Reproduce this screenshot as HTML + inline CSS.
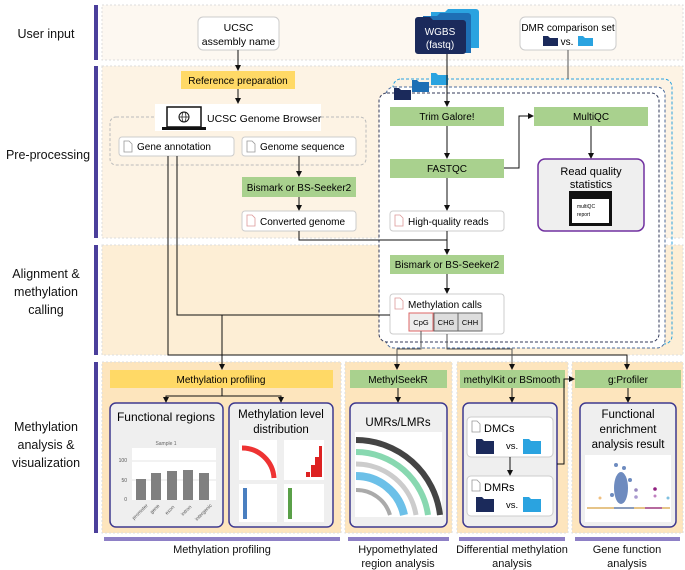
<!DOCTYPE html>
<html><head><meta charset="utf-8"><style>
html,body{margin:0;padding:0;background:#fff;}
svg{display:block;font-family:"Liberation Sans",sans-serif;}
</style></head><body>
<svg width="685" height="570" viewBox="0 0 685 570" xmlns="http://www.w3.org/2000/svg">
<defs>
<marker id="a" markerWidth="6" markerHeight="6" refX="5" refY="3" orient="auto" markerUnits="userSpaceOnUse"><path d="M0,0 L6,3 L0,6z" fill="#111"/></marker>
<g id="doc"><path d="M0,0 h5 l3,3 v8 h-8z" fill="#fff" stroke="#999" stroke-width="0.8"/></g>
<g id="docr"><path d="M0,0 h5 l3,3 v8 h-8z" fill="#fff" stroke="#d99" stroke-width="0.8"/></g>
</defs>

<g fill="#4b3f9b">
<rect x="94" y="5" width="4" height="55"/>
<rect x="94" y="66" width="4" height="172"/>
<rect x="94" y="245" width="4" height="110"/>
<rect x="94" y="362" width="4" height="171"/>
</g>
<g font-size="12.5" fill="#111" text-anchor="middle">
<text x="46" y="38">User input</text>
<text x="48" y="159">Pre-processing</text>
<text x="46" y="278">Alignment &amp;</text>
<text x="46" y="296">methylation</text>
<text x="46" y="314">calling</text>
<text x="46" y="431">Methylation</text>
<text x="46" y="449">analysis &amp;</text>
<text x="46" y="467">visualization</text>
</g>

<rect x="102" y="5" width="581" height="55" fill="#fdf8f1" stroke="#ddd" stroke-dasharray="2,2"/>
<rect x="102" y="66" width="581" height="172" fill="#fdf3e4" stroke="#ddd" stroke-dasharray="2,2"/>
<rect x="102" y="245" width="581" height="110" fill="#fdeed5" stroke="#ddd" stroke-dasharray="2,2"/>
<rect x="102" y="362" width="239" height="171" fill="#fde5bd" stroke="#ddd" stroke-dasharray="2,2"/>
<rect x="345" y="362" width="107" height="171" fill="#fde5bd" stroke="#ddd" stroke-dasharray="2,2"/>
<rect x="457" y="362" width="111" height="171" fill="#fde5bd" stroke="#ddd" stroke-dasharray="2,2"/>
<rect x="572" y="362" width="111" height="171" fill="#fde5bd" stroke="#ddd" stroke-dasharray="2,2"/>

<rect x="198" y="17" width="81" height="33" rx="5" fill="#fff" stroke="#ccc"/>
<text x="238.5" y="31" font-size="10.5" text-anchor="middle">UCSC</text>
<text x="238.5" y="45" font-size="10.5" text-anchor="middle">assembly name</text>
<path d="M431,12 h14 l3,-3 h28 a3,3 0 0 1 3,3 v36 h-48z" fill="#2aa3e0"/>
<path d="M423,16 h14 l3,-3 h28 a3,3 0 0 1 3,3 v37 h-48z" fill="#1e6fb5"/>
<path d="M415,20 a3,3 0 0 1 3,-3 h12 l3,3 h30 a3,3 0 0 1 3,3 v28 a3,3 0 0 1 -3,3 h-45 a3,3 0 0 1 -3,-3z" fill="#1b2a5b"/>
<text x="440" y="35" font-size="10" fill="#fff" text-anchor="middle">WGBS</text>
<text x="440" y="48" font-size="10" fill="#fff" text-anchor="middle">(fastq)</text>
<rect x="520" y="17" width="96" height="33" rx="5" fill="#fff" stroke="#ccc"/>
<text x="568" y="31" font-size="10" text-anchor="middle">DMR comparison set</text>
<path d="M543,36 h5 l2,2 h8 v8 h-15z" fill="#1b2a5b"/>
<text x="567" y="45" font-size="10" text-anchor="middle">vs.</text>
<path d="M578,36 h5 l2,2 h8 v8 h-15z" fill="#2aa3e0"/>

<rect x="181" y="71" width="114" height="18" fill="#ffd966"/>
<text x="238" y="84" font-size="10" text-anchor="middle">Reference preparation</text>
<line x1="238" y1="50" x2="238" y2="70" stroke="#111" marker-end="url(#a)"/>
<line x1="238" y1="89" x2="238" y2="103" stroke="#111" marker-end="url(#a)"/>
<rect x="110" y="117" width="256" height="48" rx="6" fill="none" stroke="#bbb" stroke-dasharray="3,2"/>
<rect x="155" y="104" width="166" height="27" fill="#fff"/>
<rect x="167" y="107" width="34" height="20" fill="#fff" stroke="#111" stroke-width="1.5"/>
<rect x="162" y="127" width="44" height="3" fill="#111"/>
<circle cx="184" cy="117" r="5" fill="none" stroke="#111"/>
<line x1="179" y1="117" x2="189" y2="117" stroke="#111" stroke-width="0.7"/>
<ellipse cx="184" cy="117" rx="2" ry="5" fill="none" stroke="#111" stroke-width="0.7"/>
<text x="207" y="122" font-size="10.5">UCSC Genome Browser</text>
<rect x="119" y="137" width="115" height="19" rx="3" fill="#fff" stroke="#ccc"/>
<use href="#doc" x="124" y="141"/>
<text x="137" y="150" font-size="10">Gene annotation</text>
<rect x="242" y="137" width="114" height="19" rx="3" fill="#fff" stroke="#ccc"/>
<use href="#doc" x="247" y="141"/>
<text x="260" y="150" font-size="10">Genome sequence</text>
<line x1="299" y1="156" x2="299" y2="176" stroke="#111" marker-end="url(#a)"/>
<rect x="242" y="177" width="114" height="20" fill="#a9d18e"/>
<text x="299" y="191" font-size="10" text-anchor="middle">Bismark or BS-Seeker2</text>
<line x1="299" y1="197" x2="299" y2="210" stroke="#111" marker-end="url(#a)"/>
<rect x="242" y="211" width="114" height="20" rx="3" fill="#fff" stroke="#ccc"/>
<use href="#docr" x="247" y="215"/>
<text x="260" y="225" font-size="10">Converted genome</text>

<rect x="393" y="79" width="279" height="265" rx="8" fill="none" stroke="#2aa3e0" stroke-dasharray="3,2"/>
<rect x="386" y="87" width="279" height="261" rx="8" fill="#fff" stroke="#4a6a9a" stroke-dasharray="3,2"/>
<rect x="379" y="93" width="280" height="249" rx="8" fill="#fff" stroke="#333a5a" stroke-dasharray="3,2"/>
<path d="M431,73 h5 l2,2 h10 v10 h-17z" fill="#2aa3e0"/>
<path d="M412,80 h5 l2,2 h10 v10 h-17z" fill="#1e6fb5"/>
<path d="M394,88 h5 l2,2 h10 v10 h-17z" fill="#1b2a5b"/>
<line x1="568" y1="50" x2="568" y2="79" stroke="#555"/>

<line x1="447" y1="54" x2="447" y2="106" stroke="#111" marker-end="url(#a)"/>
<rect x="390" y="107" width="114" height="19" fill="#a9d18e"/>
<text x="447" y="120" font-size="10" text-anchor="middle">Trim Galore!</text>
<rect x="534" y="107" width="114" height="19" fill="#a9d18e"/>
<text x="591" y="120" font-size="10" text-anchor="middle">MultiQC</text>
<line x1="447" y1="126" x2="447" y2="158" stroke="#111" marker-end="url(#a)"/>
<rect x="390" y="159" width="114" height="19" fill="#a9d18e"/>
<text x="447" y="172" font-size="10" text-anchor="middle">FASTQC</text>
<polyline points="504,168 519,168 519,116 533,116" fill="none" stroke="#111" marker-end="url(#a)"/>
<line x1="591" y1="126" x2="591" y2="158" stroke="#111" marker-end="url(#a)"/>
<rect x="538" y="159" width="106" height="72" rx="7" fill="#efefef" stroke="#7030a0" stroke-width="1.5"/>
<text x="591" y="175" font-size="11" text-anchor="middle">Read quality</text>
<text x="591" y="188" font-size="11" text-anchor="middle">statistics</text>
<rect x="569" y="191" width="43" height="35" fill="#111"/>
<rect x="572" y="199" width="37" height="24" fill="#fff"/>
<text x="577" y="208" font-size="5">multiQC</text>
<text x="577" y="216" font-size="5">report</text>
<line x1="447" y1="178" x2="447" y2="210" stroke="#111" marker-end="url(#a)"/>
<rect x="390" y="211" width="114" height="20" rx="3" fill="#fff" stroke="#ccc"/>
<use href="#docr" x="395" y="215"/>
<text x="408" y="225" font-size="10">High-quality reads</text>
<polyline points="299,231 299,240 447,240" fill="none" stroke="#111"/>
<line x1="447" y1="231" x2="447" y2="254" stroke="#111" marker-end="url(#a)"/>
<rect x="390" y="255" width="114" height="19" fill="#a9d18e"/>
<text x="447" y="268" font-size="10" text-anchor="middle">Bismark or BS-Seeker2</text>
<line x1="447" y1="274" x2="447" y2="293" stroke="#111" marker-end="url(#a)"/>
<rect x="390" y="294" width="114" height="40" rx="3" fill="#fff" stroke="#ccc"/>
<use href="#docr" x="395" y="298"/>
<text x="408" y="308" font-size="10">Methylation calls</text>
<rect x="409" y="313" width="24" height="18" fill="#eee" stroke="#d66"/>
<rect x="434" y="313" width="24" height="18" fill="#ddd" stroke="#666"/>
<rect x="458" y="313" width="24" height="18" fill="#ddd" stroke="#666"/>
<text x="421" y="325" font-size="7.5" text-anchor="middle">CpG</text>
<text x="446" y="325" font-size="7.5" text-anchor="middle">CHG</text>
<text x="470" y="325" font-size="7.5" text-anchor="middle">CHH</text>

<polyline points="177,156 177,315 390,315" fill="none" stroke="#111"/>
<polyline points="168,156 168,355 627,355 627,369" fill="none" stroke="#111" marker-end="url(#a)"/>
<line x1="222" y1="315" x2="222" y2="369" stroke="#111" marker-end="url(#a)"/>
<polyline points="421,331 421,349 397,349 397,369" fill="none" stroke="#555" marker-end="url(#a)"/>
<polyline points="447,334 447,349 512,349 512,369" fill="none" stroke="#555" marker-end="url(#a)"/>

<rect x="110" y="370" width="223" height="18" fill="#ffd966"/>
<text x="221" y="383" font-size="10" text-anchor="middle">Methylation profiling</text>
<polyline points="222,388 222,396 166,396 166,402" fill="none" stroke="#111" marker-end="url(#a)"/>
<polyline points="222,396 281,396 281,402" fill="none" stroke="#111" marker-end="url(#a)"/>
<rect x="110" y="403" width="113" height="124" rx="6" fill="#efefef" stroke="#3f3a8f" stroke-width="1.5"/>
<text x="166" y="421" font-size="12" text-anchor="middle">Functional regions</text>
<text x="166" y="445" font-size="5" fill="#666" text-anchor="middle">Sample 1</text>
<rect x="132" y="448" width="84" height="52" fill="#fff"/>
<g font-size="5" fill="#555" text-anchor="end"><text x="127" y="462">100</text><text x="127" y="482">50</text><text x="127" y="501">0</text></g>
<line x1="132" y1="461" x2="216" y2="461" stroke="#ccc" stroke-width="0.5"/>
<line x1="132" y1="480" x2="216" y2="480" stroke="#ccc" stroke-width="0.5"/>
<g fill="#808080"><rect x="136" y="479" width="10" height="21"/><rect x="151" y="473" width="10" height="27"/><rect x="167" y="471" width="10" height="29"/><rect x="183" y="470" width="10" height="30"/><rect x="199" y="473" width="10" height="27"/></g>
<g font-size="5" fill="#555"><text transform="translate(134,520) rotate(-45)">promoter</text><text transform="translate(152,514) rotate(-45)">gene</text><text transform="translate(167,515) rotate(-45)">exon</text><text transform="translate(183,516) rotate(-45)">intron</text><text transform="translate(197,521) rotate(-45)">intergenic</text></g>
<rect x="229" y="403" width="104" height="124" rx="6" fill="#efefef" stroke="#3f3a8f" stroke-width="1.5"/>
<text x="281" y="418" font-size="11.5" text-anchor="middle">Methylation level</text>
<text x="281" y="433" font-size="11.5" text-anchor="middle">distribution</text>
<rect x="239" y="440" width="38" height="40" fill="#fff"/>
<path d="M242,448 A32,32 0 0 1 274,478" fill="none" stroke="#e33" stroke-width="5"/>
<rect x="284" y="440" width="40" height="40" fill="#fff"/>
<g fill="#d22"><rect x="311" y="465" width="4" height="12"/><rect x="315" y="457" width="4" height="20"/><rect x="319" y="446" width="3" height="31"/><rect x="306" y="472" width="4" height="5"/></g>
<rect x="239" y="484" width="38" height="38" fill="#fff"/>
<rect x="243" y="488" width="4" height="31" fill="#4a7fc0"/>
<rect x="284" y="484" width="40" height="38" fill="#fff"/>
<rect x="288" y="488" width="4" height="31" fill="#5aa048"/>

<rect x="350" y="370" width="97" height="18" fill="#a9d18e"/>
<text x="398" y="383" font-size="10" text-anchor="middle">MethylSeekR</text>
<line x1="398" y1="388" x2="398" y2="402" stroke="#111" marker-end="url(#a)"/>
<rect x="350" y="403" width="97" height="124" rx="6" fill="#efefef" stroke="#3f3a8f" stroke-width="1.5"/>
<text x="398" y="426" font-size="11.5" text-anchor="middle">UMRs/LMRs</text>
<rect x="355" y="432" width="87" height="85" fill="#fff"/>
<g fill="none">
<path d="M356,440 A85,85 0 0 1 440,515" stroke="#444" stroke-width="6"/>
<path d="M356,452 A73,73 0 0 1 428,515" stroke="#88d8b0" stroke-width="6"/>
<path d="M356,464 A61,61 0 0 1 416,515" stroke="#ccc" stroke-width="5"/>
<path d="M356,476 A49,49 0 0 1 404,515" stroke="#6cc0e8" stroke-width="8"/>
<path d="M356,490 A35,35 0 0 1 390,515" stroke="#aaa" stroke-width="4"/>
</g>

<rect x="460" y="370" width="105" height="18" fill="#a9d18e"/>
<text x="512" y="383" font-size="10" text-anchor="middle">methylKit or BSmooth</text>
<line x1="512" y1="388" x2="512" y2="402" stroke="#111" marker-end="url(#a)"/>
<rect x="463" y="403" width="94" height="124" rx="6" fill="#efefef" stroke="#3f3a8f" stroke-width="1.5"/>
<rect x="467" y="417" width="86" height="40" rx="4" fill="#fff" stroke="#ccc"/>
<use href="#doc" x="472" y="421"/>
<text x="484" y="432" font-size="11">DMCs</text>
<path d="M476,439 h6 l2,2 h10 v13 h-18z" fill="#1b2a5b"/>
<text x="506" y="449" font-size="9.5">vs.</text>
<path d="M523,439 h6 l2,2 h10 v13 h-18z" fill="#2aa3e0"/>
<line x1="510" y1="457" x2="510" y2="475" stroke="#111" marker-end="url(#a)"/>
<rect x="467" y="476" width="86" height="40" rx="4" fill="#fff" stroke="#ccc"/>
<use href="#doc" x="472" y="480"/>
<text x="484" y="491" font-size="11">DMRs</text>
<path d="M476,497 h6 l2,2 h10 v13 h-18z" fill="#1b2a5b"/>
<text x="506" y="508" font-size="9.5">vs.</text>
<path d="M523,497 h6 l2,2 h10 v13 h-18z" fill="#2aa3e0"/>
<polyline points="557,464 564,464 564,379 574,379" fill="none" stroke="#111" marker-end="url(#a)"/>

<rect x="575" y="370" width="106" height="18" fill="#a9d18e"/>
<text x="628" y="383" font-size="10" text-anchor="middle">g:Profiler</text>
<line x1="628" y1="388" x2="628" y2="402" stroke="#111" marker-end="url(#a)"/>
<rect x="580" y="403" width="96" height="124" rx="6" fill="#efefef" stroke="#3f3a8f" stroke-width="1.5"/>
<text x="628" y="418" font-size="11.5" text-anchor="middle">Functional</text>
<text x="628" y="433" font-size="11.5" text-anchor="middle">enrichment</text>
<text x="628" y="448" font-size="11.5" text-anchor="middle">analysis result</text>
<rect x="585" y="455" width="86" height="67" fill="#fff"/>
<g fill="#4a6fb0" opacity="0.8">
<ellipse cx="621" cy="488" rx="7" ry="16"/><circle cx="616" cy="465" r="2"/><circle cx="624" cy="468" r="2"/><circle cx="630" cy="480" r="2"/><circle cx="612" cy="495" r="2"/>
</g>
<circle cx="636" cy="490" r="1.8" fill="#9a8ac0"/><circle cx="636" cy="497" r="1.8" fill="#aa9ad0"/>
<circle cx="655" cy="489" r="1.8" fill="#902080"/><circle cx="655" cy="496" r="1.5" fill="#c080c0"/>
<circle cx="600" cy="498" r="1.5" fill="#f0c080"/><circle cx="668" cy="498" r="1.5" fill="#80c0e0"/>
<line x1="587" y1="508" x2="670" y2="508" stroke="#d8a040" stroke-width="1.2"/>
<line x1="614" y1="508" x2="634" y2="508" stroke="#4a6fb0" stroke-width="1.2"/>
<line x1="645" y1="508" x2="662" y2="508" stroke="#902080" stroke-width="1.2"/>

<g fill="#8e80c6">
<rect x="104" y="537" width="236" height="4"/>
<rect x="348" y="537" width="101" height="4"/>
<rect x="459" y="537" width="106" height="4"/>
<rect x="575" y="537" width="105" height="4"/>
</g>
<g font-size="11" text-anchor="middle" fill="#111">
<text x="222" y="553">Methylation profiling</text>
<text x="398" y="553">Hypomethylated</text>
<text x="398" y="567">region analysis</text>
<text x="512" y="553">Differential methylation</text>
<text x="512" y="567">analysis</text>
<text x="627" y="553">Gene function</text>
<text x="627" y="567">analysis</text>
</g>
</svg>
</body></html>
